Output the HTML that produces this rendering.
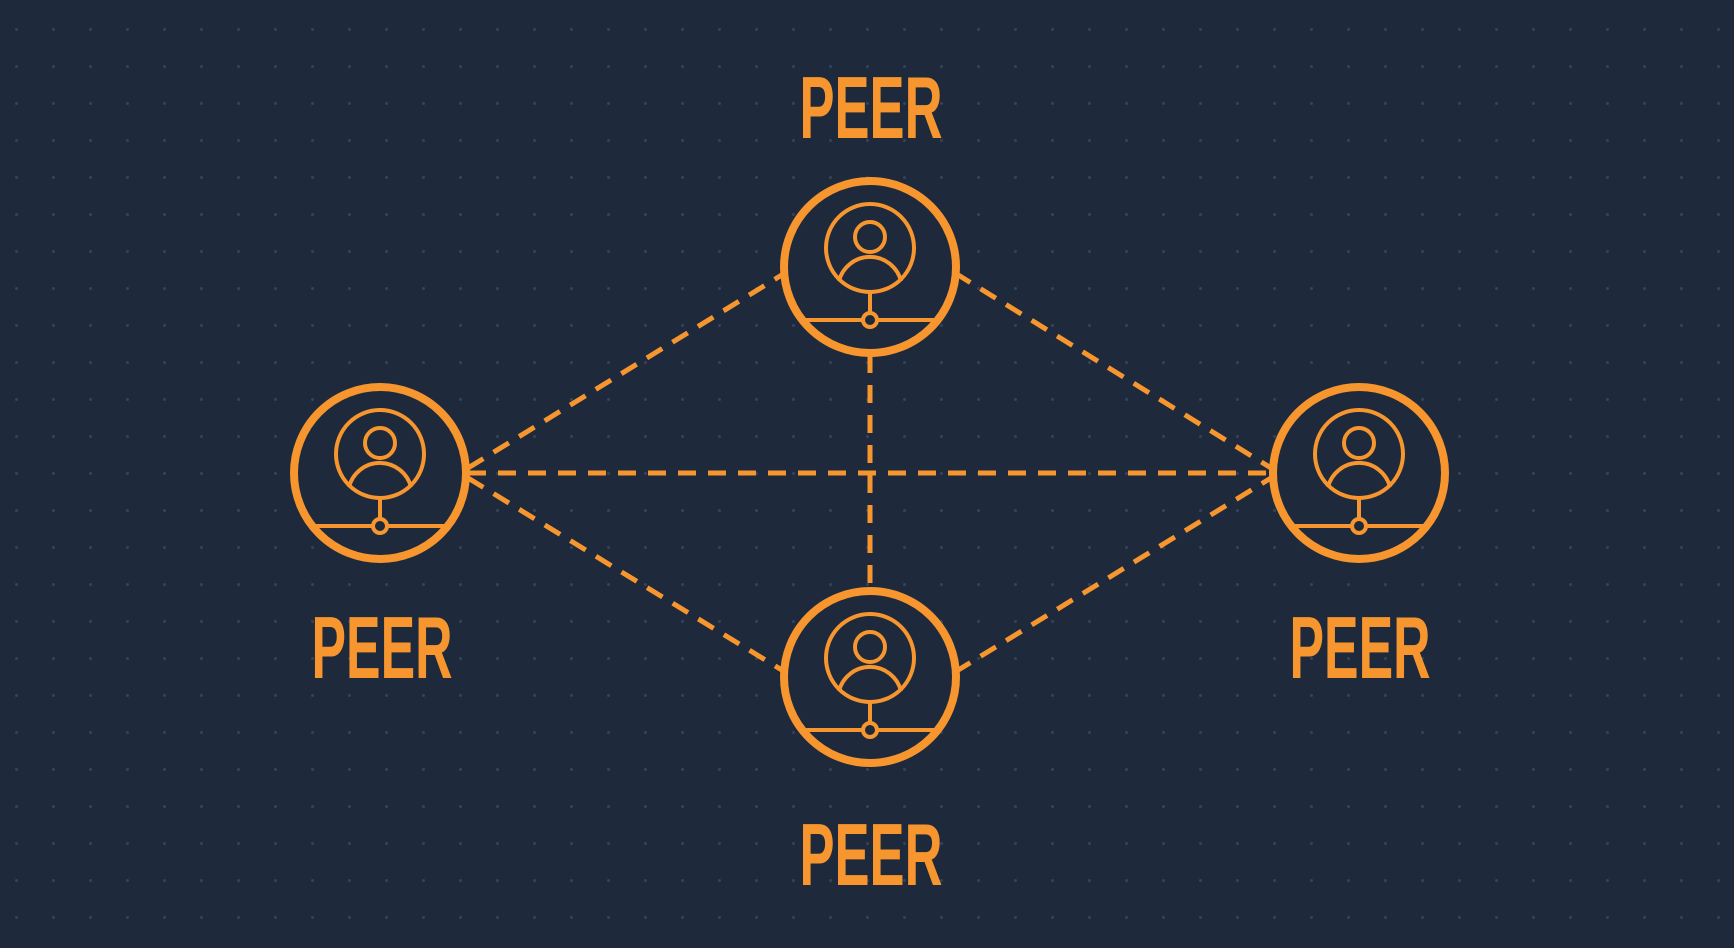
<!DOCTYPE html>
<html><head><meta charset="utf-8"><style>
html,body{margin:0;padding:0;background:#1e2a3b;}
svg{display:block}
text{font-family:"Liberation Sans Narrow","Liberation Sans",sans-serif;font-weight:bold;fill:#f7962f;}
</style></head><body>
<svg width="1734" height="948" viewBox="0 0 1734 948" xmlns="http://www.w3.org/2000/svg">
<defs>
<pattern id="dots" x="15" y="28" width="37" height="37" patternUnits="userSpaceOnUse">
<circle cx="1.5" cy="1.5" r="1.5" fill="#34435a"/>
</pattern>
<g id="node">
<circle r="86" fill="#1e2a3b" stroke="#f7962f" stroke-width="8"/>
<circle cx="0" cy="-19" r="44" fill="none" stroke="#f7962f" stroke-width="4"/>
<circle cx="0" cy="-30" r="15" fill="none" stroke="#f7962f" stroke-width="4"/>
<path d="M-31,14 A32,32 0 0 1 31,14" fill="none" stroke="#f7962f" stroke-width="4"/>
<line x1="0" y1="25" x2="0" y2="47" stroke="#f7962f" stroke-width="4"/>
<line x1="-64" y1="53" x2="64" y2="53" stroke="#f7962f" stroke-width="4"/>
<circle cx="0" cy="53" r="7" fill="#1e2a3b" stroke="#f7962f" stroke-width="4"/>
</g>
</defs>
<rect width="1734" height="948" fill="#1e2a3b"/>
<rect width="1734" height="948" fill="url(#dots)"/>
<g stroke="#f7962f" stroke-width="5" stroke-dasharray="18 12" fill="none">
<line x1="468" y1="473" x2="1271" y2="473"/>
<line x1="870" y1="355" x2="870" y2="590"/>
<line x1="468" y1="468" x2="785" y2="273"/>
<line x1="468" y1="478" x2="785" y2="672"/>
<line x1="955" y1="273" x2="1271" y2="468"/>
<line x1="955" y1="672" x2="1271" y2="478"/>
</g>
<use href="#node" x="870" y="267"/>
<use href="#node" x="380" y="473"/>
<use href="#node" x="1359" y="473"/>
<use href="#node" x="870" y="677"/>
<text x="871" y="138" font-size="88" text-anchor="middle" textLength="143" lengthAdjust="spacingAndGlyphs">PEER</text>
<text x="382" y="678" font-size="88" text-anchor="middle" textLength="141" lengthAdjust="spacingAndGlyphs">PEER</text>
<text x="1360" y="678" font-size="88" text-anchor="middle" textLength="141" lengthAdjust="spacingAndGlyphs">PEER</text>
<text x="871" y="885" font-size="88" text-anchor="middle" textLength="143" lengthAdjust="spacingAndGlyphs">PEER</text>
</svg>
</body></html>
